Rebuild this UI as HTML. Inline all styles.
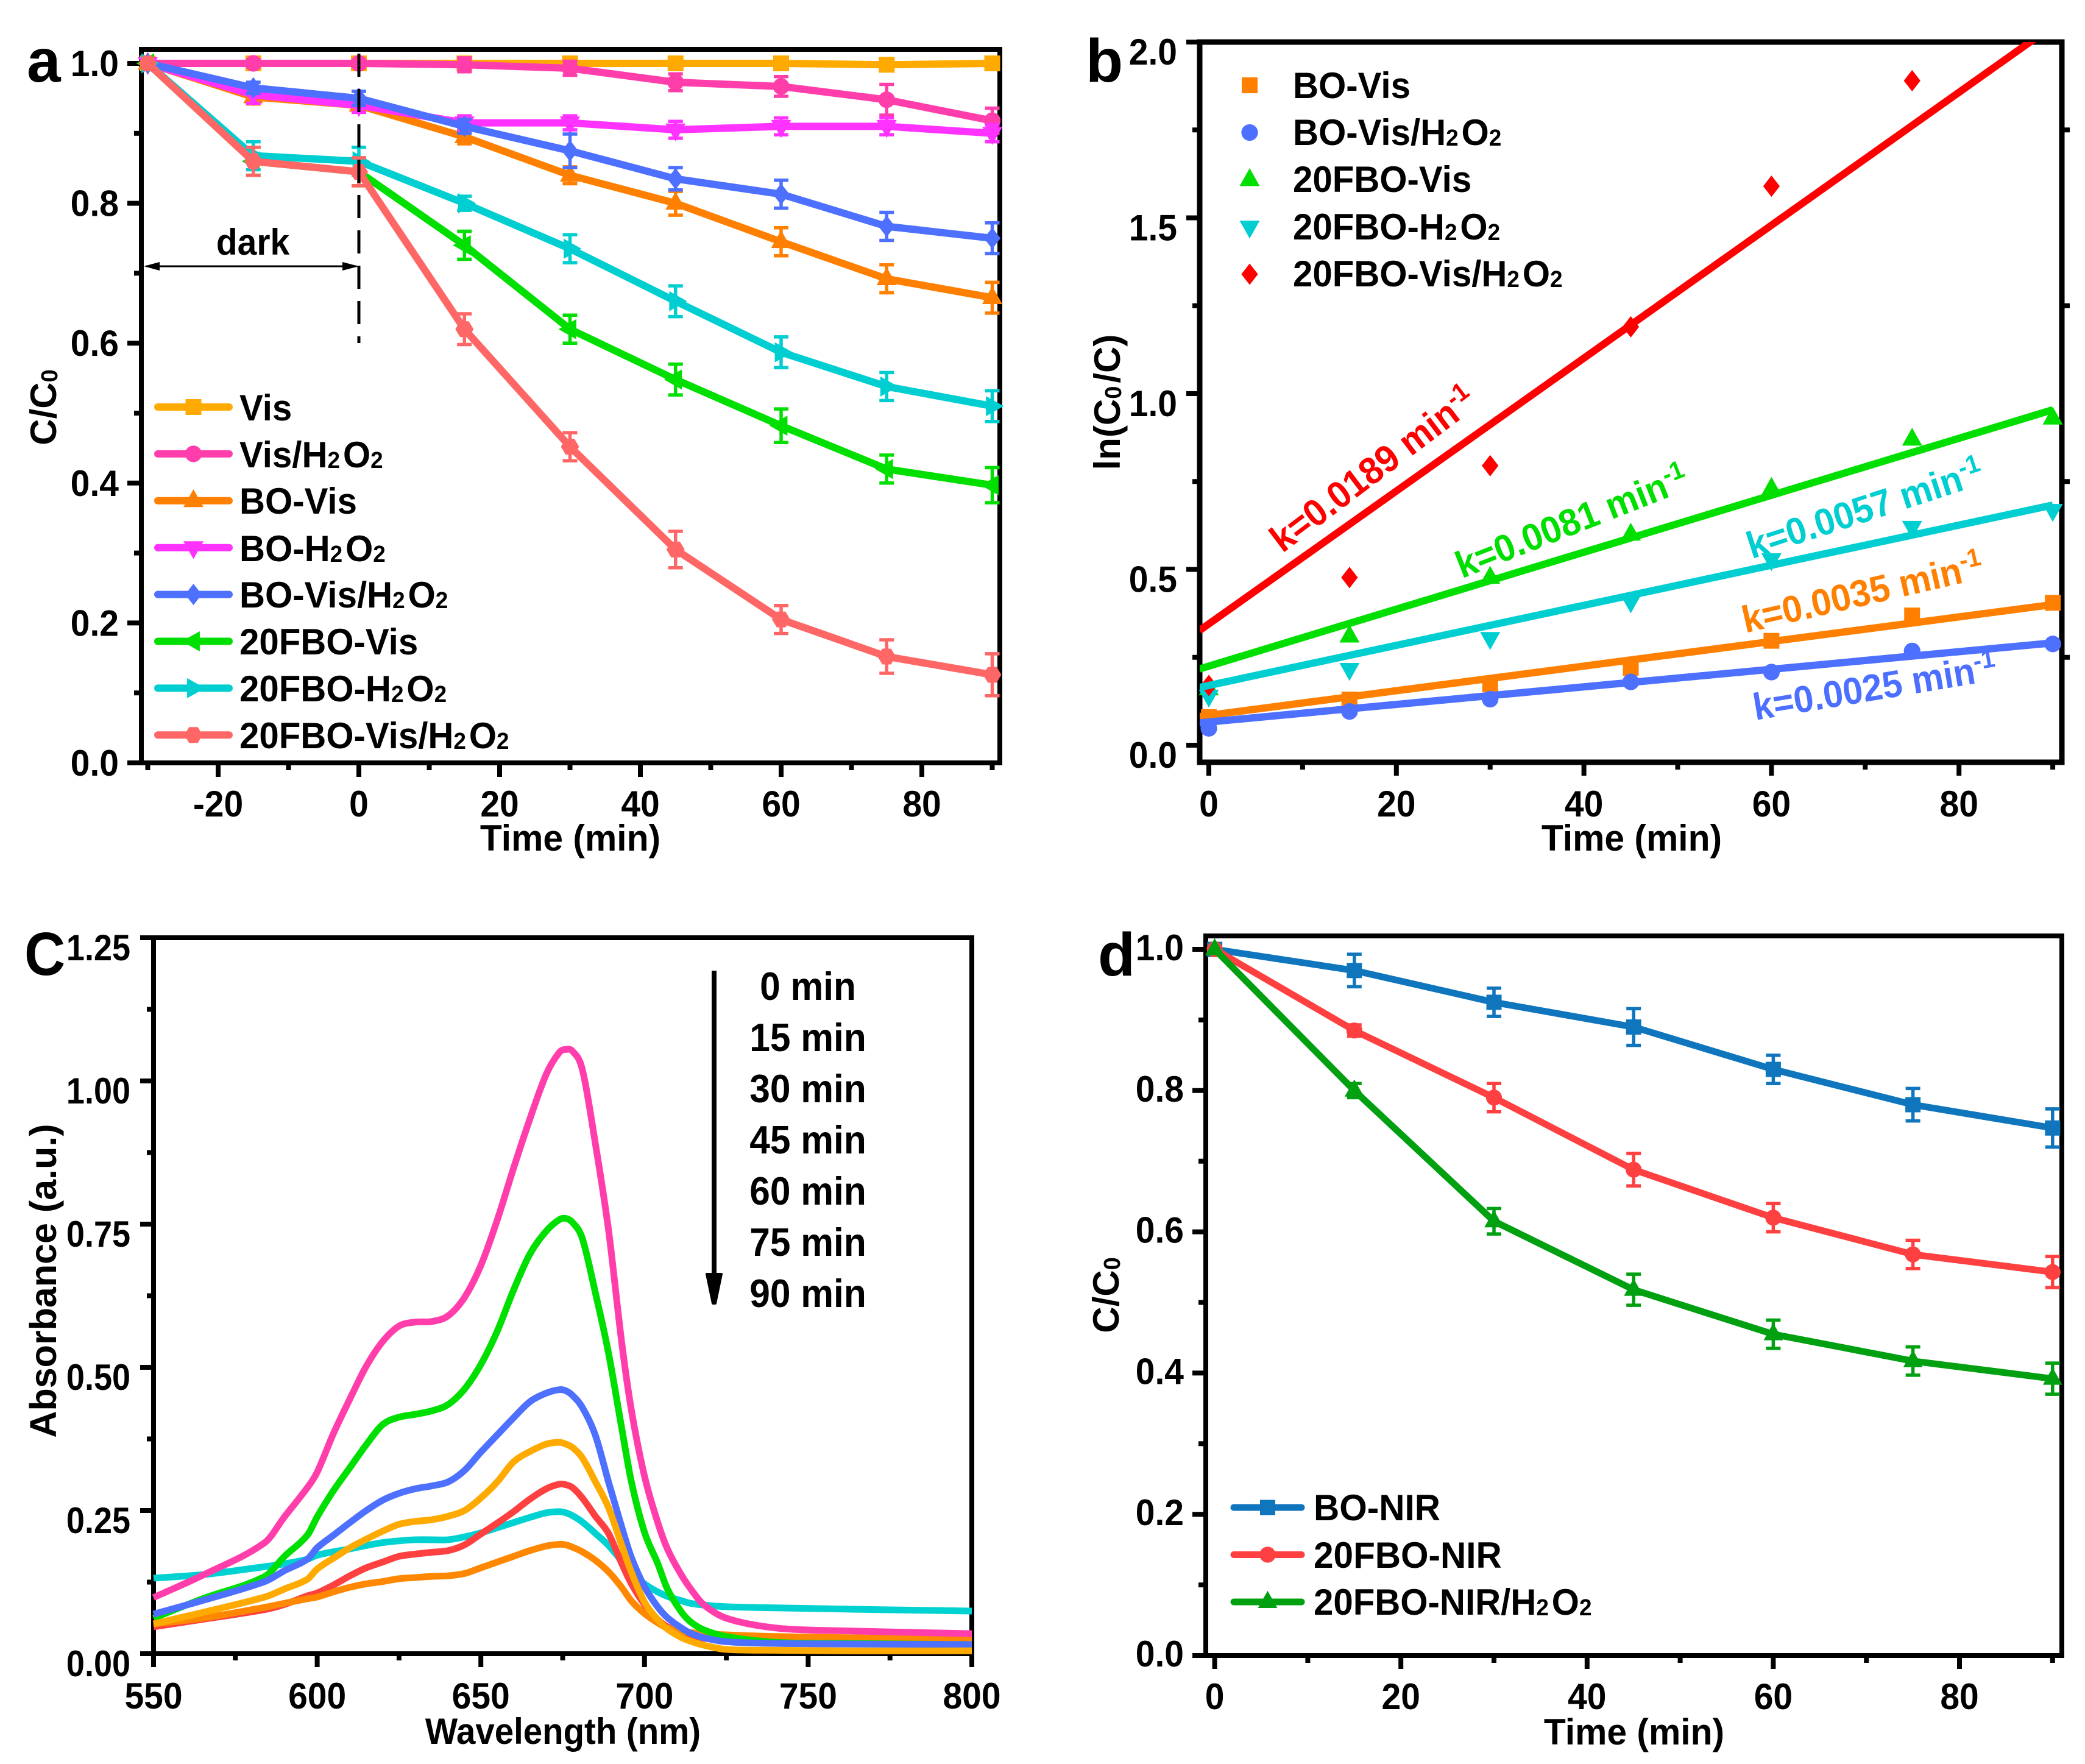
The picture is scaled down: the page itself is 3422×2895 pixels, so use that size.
<!DOCTYPE html>
<html lang="en">
<head>
<meta charset="utf-8">
<title>Photocatalytic degradation charts</title>
<style>
html,body{margin:0;padding:0;background:#fff;}
svg{display:block;}
text{font-family:"Liberation Sans",Arial,sans-serif;font-weight:700;fill:#000;}
.lg{font-size:60px;}
.sub{font-size:38px;letter-spacing:5px;}
.ax{font-size:60px;}
.rate{font-size:62px;}
.sup{font-size:42px;}
.tm{font-size:65px;}
.letter{font-size:100px;}
</style>
</head>
<body>
<svg id="chart" xmlns="http://www.w3.org/2000/svg" width="3422" height="2895" viewBox="0 0 3422 2895">
<rect width="3422" height="2895" fill="#fff"/>
<defs><clipPath id="clipB"><rect x="1969" y="69" width="1415" height="1182"/></clipPath></defs>

<g id="panelA"></g>
<g id="panelB"></g>
<g id="panelC"></g>
<g id="panelD"></g>

<!-- Panel letters -->
<text class="letter" x="44" y="134">a</text>
<text class="letter" x="1782" y="134">b</text>
<text class="letter" transform="translate(40 1600) scale(.93 1)">C</text>
<text class="letter" x="1802" y="1601">d</text>

<!-- Axis titles -->
<text class="ax" text-anchor="middle" transform="translate(936 1396) scale(.98 1)">Time (min)</text>
<text class="ax" text-anchor="middle" transform="translate(92 666) rotate(-90)">C/C<tspan class="sub" dy="2">0</tspan></text>
<text class="ax" text-anchor="middle" transform="translate(2678 1396) scale(.98 1)">Time (min)</text>
<text class="ax" text-anchor="middle" transform="translate(1838 660) rotate(-90)">ln(C<tspan class="sub" dy="2">0</tspan><tspan dy="-2">/C)</tspan></text>
<text class="ax" text-anchor="middle" transform="translate(924 2862) scale(.94 1)">Wavelength (nm)</text>
<text class="ax" text-anchor="middle" style="font-size:61px" transform="translate(92 2102) rotate(-90)">Absorbance (a.u.)</text>
<text class="ax" text-anchor="middle" transform="translate(2682 2863) scale(.98 1)">Time (min)</text>
<text class="ax" text-anchor="middle" transform="translate(1836 2123) rotate(-90)">C/C<tspan class="sub" dy="2">0</tspan></text>

<!-- Panel a annotation -->
<text class="ax" text-anchor="middle" transform="translate(415 418) scale(.95 1)">dark</text>
<line x1="240" y1="437" x2="585" y2="437" stroke="#000" stroke-width="3"/>
<polygon points="236,437 262,430 262,444" fill="#000"/>
<polygon points="589,437 562,430 562,444" fill="#000"/>
<line x1="589" y1="88" x2="589" y2="563" stroke="#000" stroke-width="5" stroke-dasharray="38 20"/>

<!-- Panel a legend text -->
<g>
<text class="lg" transform="translate(393 690) scale(.97 1)">Vis</text>
<text class="lg" transform="translate(393 767) scale(.97 1)">Vis/H<tspan class="sub" dy="1">2</tspan><tspan dy="-1">O</tspan><tspan class="sub" dy="1">2</tspan></text>
<text class="lg" transform="translate(393 843) scale(.97 1)">BO-Vis</text>
<text class="lg" transform="translate(393 921) scale(.97 1)">BO-H<tspan class="sub" dy="1">2</tspan><tspan dy="-1">O</tspan><tspan class="sub" dy="1">2</tspan></text>
<text class="lg" transform="translate(393 997) scale(.97 1)">BO-Vis/H<tspan class="sub" dy="1">2</tspan><tspan dy="-1">O</tspan><tspan class="sub" dy="1">2</tspan></text>
<text class="lg" transform="translate(393 1074) scale(.97 1)">20FBO-Vis</text>
<text class="lg" transform="translate(393 1151) scale(.97 1)">20FBO-H<tspan class="sub" dy="1">2</tspan><tspan dy="-1">O</tspan><tspan class="sub" dy="1">2</tspan></text>
<text class="lg" transform="translate(393 1228) scale(.97 1)">20FBO-Vis/H<tspan class="sub" dy="1">2</tspan><tspan dy="-1">O</tspan><tspan class="sub" dy="1">2</tspan></text>
</g>

<!-- Panel b legend text -->
<g>
<text class="lg" transform="translate(2122 161) scale(.97 1)">BO-Vis</text>
<text class="lg" transform="translate(2122 238) scale(.97 1)">BO-Vis/H<tspan class="sub" dy="1">2</tspan><tspan dy="-1">O</tspan><tspan class="sub" dy="1">2</tspan></text>
<text class="lg" transform="translate(2122 315) scale(.97 1)">20FBO-Vis</text>
<text class="lg" transform="translate(2122 393) scale(.97 1)">20FBO-H<tspan class="sub" dy="1">2</tspan><tspan dy="-1">O</tspan><tspan class="sub" dy="1">2</tspan></text>
<text class="lg" transform="translate(2122 470) scale(.97 1)">20FBO-Vis/H<tspan class="sub" dy="1">2</tspan><tspan dy="-1">O</tspan><tspan class="sub" dy="1">2</tspan></text>
</g>

<!-- Panel b rate constant labels -->
<text class="rate" style="fill:#FF0000" text-anchor="middle" transform="translate(2254 771) rotate(-37) scale(.95 1)"><tspan dy="20">k=0.0189 min</tspan><tspan class="sup" dy="-22">-1</tspan></text>
<text class="rate" style="fill:#00DF00" text-anchor="middle" transform="translate(2580 857) rotate(-21.5) scale(.95 1)"><tspan dy="20">k=0.0081 min</tspan><tspan class="sup" dy="-22">-1</tspan></text>
<text class="rate" style="fill:#00CED1" text-anchor="middle" transform="translate(3061 836) rotate(-18) scale(.95 1)"><tspan dy="20">k=0.0057 min</tspan><tspan class="sup" dy="-22">-1</tspan></text>
<text class="rate" style="fill:#FF8000" text-anchor="middle" transform="translate(3057 974) rotate(-13) scale(.95 1)"><tspan dy="20">k=0.0035 min</tspan><tspan class="sup" dy="-22">-1</tspan></text>
<text class="rate" style="fill:#4C6FFF" text-anchor="middle" transform="translate(3077 1129) rotate(-9.5) scale(.95 1)"><tspan dy="20">k=0.0025 min</tspan><tspan class="sup" dy="-22">-1</tspan></text>

<!-- Panel c time list and arrow -->
<line x1="1172" y1="1593" x2="1172" y2="2100" stroke="#000" stroke-width="8"/>
<polygon points="1160,2091 1184,2091 1174,2139 1170,2139" fill="#000" stroke="#000" stroke-width="4" stroke-linejoin="round"/>
<g>
<text class="tm" text-anchor="middle" transform="translate(1326 1641) scale(.93 1)">0 min</text>
<text class="tm" text-anchor="middle" transform="translate(1326 1725) scale(.93 1)">15 min</text>
<text class="tm" text-anchor="middle" transform="translate(1326 1809) scale(.93 1)">30 min</text>
<text class="tm" text-anchor="middle" transform="translate(1326 1893) scale(.93 1)">45 min</text>
<text class="tm" text-anchor="middle" transform="translate(1326 1977) scale(.93 1)">60 min</text>
<text class="tm" text-anchor="middle" transform="translate(1326 2061) scale(.93 1)">75 min</text>
<text class="tm" text-anchor="middle" transform="translate(1326 2145) scale(.93 1)">90 min</text>
</g>

<!-- Panel d legend text -->
<g>
<text class="lg" transform="translate(2156 2495) scale(.975 1)">BO-NIR</text>
<text class="lg" transform="translate(2156 2573) scale(.975 1)">20FBO-NIR</text>
<text class="lg" transform="translate(2156 2650) scale(.97 1)">20FBO-NIR/H<tspan class="sub" dy="1">2</tspan><tspan dy="-1">O</tspan><tspan class="sub" dy="1">2</tspan></text>
</g>
</svg>

<script>
/* ---------- Panel a data ---------- */
const timeA = [-30, -15, 0, 15, 30, 45, 60, 75, 90];
const visVals = [1, 1, 1, 1, 1, 1.0, 1.0, 0.998, 1.0];
const visErr = [0, 0.004, 0.004, 0.004, 0.004, 0.006, 0.006, 0.006, 0.006];
const visH2o2Vals = [1, 1, 1, 0.998, 0.993, 0.973, 0.967, 0.948, 0.918];
const visH2o2Err = [0, 0.005, 0.005, 0.01, 0.01, 0.012, 0.014, 0.022, 0.018];
const boVisVals = [1, 0.952, 0.94, 0.895, 0.84, 0.80, 0.745, 0.692, 0.665];
const boVisErr = [0, 0.01, 0.01, 0.01, 0.012, 0.017, 0.02, 0.02, 0.022];
const boH2o2Vals = [1, 0.955, 0.94, 0.915, 0.915, 0.905, 0.91, 0.91, 0.90];
const boH2o2Err = [0, 0.012, 0.01, 0.01, 0.01, 0.012, 0.012, 0.012, 0.012];
const boVisH2o2Vals = [1, 0.965, 0.95, 0.91, 0.875, 0.835, 0.813, 0.767, 0.75];
const boVisH2o2Err = [0, 0.008, 0.01, 0.01, 0.024, 0.016, 0.02, 0.02, 0.022];
const fboVisVals = [1, 0.86, 0.845, 0.74, 0.62, 0.548, 0.482, 0.42, 0.397];
const fboVisErr = [0, 0.02, 0.02, 0.02, 0.02, 0.022, 0.024, 0.02, 0.025];
const fboH2o2Vals = [1, 0.868, 0.86, 0.80, 0.735, 0.66, 0.587, 0.538, 0.51];
const fboH2o2Err = [0, 0.02, 0.02, 0.01, 0.02, 0.022, 0.022, 0.02, 0.022];
const fboVisH2o2Vals = [1, 0.86, 0.845, 0.62, 0.452, 0.305, 0.205, 0.152, 0.126];
const fboVisH2o2Err = [0, 0.02, 0.02, 0.022, 0.02, 0.026, 0.02, 0.024, 0.03];
const yTicksA = ["0.0", "0.2", "0.4", "0.6", "0.8", "1.0"];
const xTicksA = ["-20", "0", "20", "40", "60", "80"];

/* ---------- Panel b data ---------- */
const timeB = [0, 15, 30, 45, 60, 75, 90];
const bBoVis = [0.08, 0.13, 0.173, 0.22, 0.297, 0.369, 0.405];
const bBoVisH2o2 = [0.048, 0.096, 0.131, 0.18, 0.208, 0.268, 0.288];
const bFboVis = [0.16, 0.31, 0.477, 0.60, 0.73, 0.87, 0.93];
const bFboH2o2 = [0.14, 0.216, 0.304, 0.408, 0.528, 0.62, 0.668];
const bFboVisH2o2 = [0.17, 0.477, 0.795, 1.19, 1.59, 1.89];
const bSlopes = [0.0035, 0.0025, 0.0081, 0.0057, 0.0189];
const bIntercepts = [0.085, 0.066, 0.225, 0.17, 0.345];
const yTicksB = ["0.0", "0.5", "1.0", "1.5", "2.0"];
const xTicksB = ["0", "20", "40", "60", "80"];

/* ---------- Panel c data ---------- */
const wavelengths = [550,565,584,590,597,600,605,610,615,620,625,630,635,640,645,650,655,660,665,670,674,676,678,681,685,689,693,696,700,704,707,711,714,718,725,740,760,800];
const abs0 = [.098,.137,.194,.239,.29,.317,.385,.445,.502,.545,.572,.579,.58,.59,.622,.678,.757,.848,.934,1.012,1.05,1.055,1.052,1.02,.89,.74,.545,.425,.31,.23,.183,.14,.114,.086,.062,.045,.04,.035];
const abs15 = [.062,.096,.135,.17,.207,.239,.285,.325,.365,.40,.413,.418,.424,.435,.462,.505,.563,.635,.698,.738,.758,.76,.753,.725,.63,.525,.395,.30,.212,.158,.113,.075,.056,.042,.03,.02,.018,.016];
const abs30 = [.069,.093,.126,.145,.165,.185,.207,.229,.25,.268,.28,.288,.293,.30,.32,.352,.382,.412,.44,.455,.461,.459,.451,.43,.381,.30,.222,.168,.117,.082,.063,.046,.036,.028,.021,.018,.017,.016];
const abs45 = [.052,.072,.099,.113,.13,.148,.167,.185,.20,.214,.226,.231,.234,.24,.25,.272,.30,.335,.353,.366,.369,.366,.36,.342,.30,.255,.19,.142,.09,.06,.043,.029,.022,.015,.0075,.006,.005,.005];
const abs60 = [.047,.06,.077,.086,.101,.106,.12,.136,.15,.16,.17,.174,.177,.18,.19,.209,.228,.248,.27,.288,.296,.295,.29,.272,.24,.21,.158,.122,.086,.06,.047,.037,.03,.027,.024,.021,.02,.018];
const abs75 = [.132,.138,.152,.157,.165,.172,.178,.183,.189,.194,.197,.199,.199,.199,.204,.211,.22,.229,.238,.246,.248,.246,.241,.23,.21,.189,.162,.143,.122,.108,.10,.093,.088,.085,.082,.08,.078,.0745];
const abs90 = [.052,.062,.081,.088,.096,.099,.108,.116,.122,.126,.131,.133,.135,.136,.14,.15,.16,.17,.18,.188,.191,.19,.186,.178,.163,.143,.116,.092,.07,.054,.045,.04,.037,.035,.033,.03,.028,.0255];
const yTicksC = ["0.00", "0.25", "0.50", "0.75", "1.00", "1.25"];
const xTicksC = ["550", "600", "650", "700", "750", "800"];

/* ---------- Panel d data ---------- */
const timeD = [0, 15, 30, 45, 60, 75, 90];
const boNirVals = [1, 0.97, 0.925, 0.89, 0.83, 0.78, 0.747];
const boNirErr = [0, 0.023, 0.02, 0.026, 0.02, 0.023, 0.027];
const fboNirVals = [1, 0.885, 0.79, 0.688, 0.62, 0.568, 0.543];
const fboNirErr = [0, 0.008, 0.02, 0.023, 0.02, 0.02, 0.022];
const fboNirH2o2Vals = [1, 0.80, 0.615, 0.518, 0.455, 0.417, 0.392];
const fboNirH2o2Err = [0, 0.01, 0.018, 0.022, 0.02, 0.02, 0.022];
const yTicksD = ["0.0", "0.2", "0.4", "0.6", "0.8", "1.0"];
const xTicksD = ["0", "20", "40", "60", "80"];

/* ---------- Axis functions ---------- */
const xA = t => 589 + 11.55 * t;
const yA = v => 1252 - 1148 * v;
const xB = t => 1984 + 15.39 * t;
const yB = v => 1223 - 577 * v;
const xC = w => 252 + 5.372 * (w - 550);
const yC = v => 2714 - 940 * v;
const xD = t => 1993.6 + 15.28 * t;
const yD = v => 2717 - 1159 * v;

/* ---------- Drawing helpers ---------- */
const NS = "http://www.w3.org/2000/svg";
function mk(parent, tag, attrs, name) {
  const el = document.createElementNS(NS, tag);
  for (const k in attrs) el.setAttribute(k, attrs[k]);
  
  
  parent.appendChild(el);
  return el;
}
function seg(p, x1, y1, x2, y2, w, c, name) {
  return mk(p, "line", {x1, y1, x2, y2, stroke: c, "stroke-width": w}, name);
}
function marker(p, shape, cx, cy, s, c, name) {
  const r = s / 2;
  if (shape === "circle") return mk(p, "circle", {cx, cy, r: r * 1.05, fill: c}, name);
  if (shape === "square") return mk(p, "rect", {x: cx - r, y: cy - r, width: s, height: s, fill: c}, name);
  const shapes = {
    up: [[0,-1.46],[1.27,.8],[-1.27,.8]],
    down: [[0,1.46],[1.27,-.8],[-1.27,-.8]],
    left: [[-1.46,0],[.8,-1.27],[.8,1.27]],
    right: [[1.46,0],[-.8,-1.27],[-.8,1.27]],
    diamond: [[0,-1.35],[1.05,0],[0,1.35],[-1.05,0]],
    hex: [[-.55,-1],[.55,-1],[1.15,0],[.55,1],[-.55,1],[-1.15,0]]
  };
  const pts = shapes[shape].map(q => (cx + q[0] * r) + "," + (cy + q[1] * r)).join(" ");
  return mk(p, "polygon", {points: pts, fill: c}, name);
}
function label(p, x, y, str, anchor, name, sx) {
  const t = mk(p, "text", {"text-anchor": anchor, transform: "translate(" + x + " " + y + ") scale(" + sx + " 1)", "font-size": 60}, name);
  t.textContent = str;
  return t;
}
function axes(p, o) {
  /* frame */
  mk(p, "rect", {x: o.l, y: o.t, width: o.r - o.l, height: o.b - o.t, fill: "none", stroke: "#000", "stroke-width": o.w}, "plot-frame");
  /* y ticks */
  o.yMajor.forEach(v => seg(p, o.l - o.majLen, o.y(v), o.l, o.y(v), o.tw, "#000", "y-major-tick"));
  o.yMinor.forEach(v => seg(p, o.l - o.minLen, o.y(v), o.l, o.y(v), o.tw, "#000", "y-minor-tick"));
  /* x ticks */
  o.xMajor.forEach(v => seg(p, o.x(v), o.b, o.x(v), o.b + o.majLen, o.tw, "#000", "x-major-tick"));
  o.xMinor.forEach(v => seg(p, o.x(v), o.b, o.x(v), o.b + o.minLen, o.tw, "#000", "x-minor-tick"));
  /* tick labels */
  o.yLabels.forEach((s) => label(p, o.yLabelX, o.y(parseFloat(s)) + o.yLabelDy, s, "end", "y-tick-label", o.ySx || .95));
  o.xLabels.forEach((s) => label(p, o.x(parseFloat(s)), o.xLabelY, s, "middle", "x-tick-label", .95));
}
function lineSeries(p, xs, ys, errs, sx, sy, st, name, lw, ms, capW, eW) {
  const g = mk(p, "g", {}, "series-" + name);
  if (errs) {
    xs.forEach((t, i) => {
      if (!errs[i]) return;
      const x = sx(t), y1 = sy(ys[i] - errs[i]), y2 = sy(ys[i] + errs[i]);
      seg(g, x, y1, x, y2, eW, st.color, "error-bar-" + name);
      seg(g, x - capW / 2, y1, x + capW / 2, y1, eW, st.color, "error-cap-" + name);
      seg(g, x - capW / 2, y2, x + capW / 2, y2, eW, st.color, "error-cap-" + name);
    });
  }
  const pts = xs.map((t, i) => sx(t) + "," + sy(ys[i])).join(" ");
  mk(g, "polyline", {points: pts, fill: "none", stroke: st.color, "stroke-width": lw, "stroke-linejoin": "round"}, "line-" + name);
  xs.forEach((t, i) => marker(g, st.shape, sx(t), sy(ys[i]), ms, st.color, "point-" + name));
}
function legendRow(p, x1, x2, y, st, name, lw, ms) {
  mk(p, "line", {x1, y1: y, x2, y2: y, stroke: st.color, "stroke-width": lw, "stroke-linecap": "round"}, "legend-line-" + name);
  marker(p, st.shape, (x1 + x2) / 2, y, ms, st.color, "legend-marker-" + name);
}
function smoothPath(xs, ys, sx, sy) {
  const P = xs.map((w, i) => [sx(w), sy(ys[i])]);
  let d = "M" + P[0][0] + " " + P[0][1];
  for (let i = 0; i < P.length - 1; i++) {
    const a = P[Math.max(i - 1, 0)], b = P[i], c = P[i + 1], e = P[Math.min(i + 2, P.length - 1)];
    const h = (c[0] - b[0]);
    const sl = (q, r) => (r[1] - q[1]) / ((r[0] - q[0]) || 1);
    const m1 = sl(a, c), m2 = sl(b, e);
    d += " C" + (b[0] + h / 3) + " " + (b[1] + m1 * h / 3) + " " + (c[0] - h / 3) + " " + (c[1] - m2 * h / 3) + " " + c[0] + " " + c[1];
  }
  return d;
}

/* ---------- Panel a ---------- */
const panelA = document.getElementById("panelA");
axes(panelA, {
  l: 232, r: 1641, t: 81, b: 1252, w: 8, tw: 8, majLen: 23, minLen: 12, x: xA, y: yA,
  yMajor: [0, .2, .4, .6, .8, 1], yMinor: [.1, .3, .5, .7, .9],
  xMajor: [-20, 0, 20, 40, 60, 80], xMinor: [-30, -10, 10, 30, 50, 70, 90],
  yLabels: yTicksA, xLabels: xTicksA, yLabelX: 195, yLabelDy: 21, xLabelY: 1340
});
const stylesA = {
  vis: {color: "#FFAA00", shape: "square"},
  visH: {color: "#FF3EAC", shape: "circle"},
  boVis: {color: "#FF8000", shape: "up"},
  boH: {color: "#FF32FF", shape: "down"},
  boVisH: {color: "#4D70FF", shape: "diamond"},
  fVis: {color: "#00DF00", shape: "left"},
  fH: {color: "#00CED1", shape: "right"},
  fVisH: {color: "#FF6666", shape: "hex"}
};
lineSeries(panelA, timeA, visVals, visErr, xA, yA, stylesA.vis, "vis", 12, 26, 24, 5.5);
lineSeries(panelA, timeA, visH2o2Vals, visH2o2Err, xA, yA, stylesA.visH, "vis-h2o2", 12, 26, 24, 5.5);
lineSeries(panelA, timeA, boVisVals, boVisErr, xA, yA, stylesA.boVis, "bo-vis", 12, 26, 24, 5.5);
lineSeries(panelA, timeA, boH2o2Vals, boH2o2Err, xA, yA, stylesA.boH, "bo-h2o2", 12, 26, 24, 5.5);
lineSeries(panelA, timeA, boVisH2o2Vals, boVisH2o2Err, xA, yA, stylesA.boVisH, "bo-vis-h2o2", 12, 26, 24, 5.5);
lineSeries(panelA, timeA, fboVisVals, fboVisErr, xA, yA, stylesA.fVis, "20fbo-vis", 12, 26, 24, 5.5);
lineSeries(panelA, timeA, fboH2o2Vals, fboH2o2Err, xA, yA, stylesA.fH, "20fbo-h2o2", 12, 26, 24, 5.5);
lineSeries(panelA, timeA, fboVisH2o2Vals, fboVisH2o2Err, xA, yA, stylesA.fVisH, "20fbo-vis-h2o2", 12, 26, 24, 5.5);
const legendA = mk(panelA, "g", {}, "legend-a");
[["vis", "vis"], ["visH", "vis-h2o2"], ["boVis", "bo-vis"], ["boH", "bo-h2o2"], ["boVisH", "bo-vis-h2o2"], ["fVis", "20fbo-vis"], ["fH", "20fbo-h2o2"], ["fVisH", "20fbo-vis-h2o2"]]
  .forEach((e, i) => legendRow(legendA, 259, 376, 668 + 76.9 * i, stylesA[e[0]], e[1], 12, 26));

/* ---------- Panel b ---------- */
const panelB = document.getElementById("panelB");
axes(panelB, {
  l: 1969, r: 3384, t: 69, b: 1251, w: 9, tw: 8, majLen: 22, minLen: 12, x: xB, y: yB,
  yMajor: [0, .5, 1, 1.5, 2], yMinor: [.25, .75, 1.25, 1.75],
  xMajor: [0, 20, 40, 60, 80], xMinor: [10, 30, 50, 70, 90],
  yLabels: yTicksB, xLabels: xTicksB, yLabelX: 1932, yLabelDy: 37, xLabelY: 1340
});
[.25, .75, 1.25, 1.75].forEach(v => seg(panelB, 3384, yB(v), 3397, yB(v), 8, "#000", "right-minor-tick"));
const stylesB = [
  {color: "#FF8000", shape: "square", name: "bo-vis", vals: bBoVis},
  {color: "#4D70FF", shape: "circle", name: "bo-vis-h2o2", vals: bBoVisH2o2},
  {color: "#00DF00", shape: "up", name: "20fbo-vis", vals: bFboVis},
  {color: "#00CED1", shape: "down", name: "20fbo-h2o2", vals: bFboH2o2},
  {color: "#FF0000", shape: "diamond", name: "20fbo-vis-h2o2", vals: bFboVisH2o2}
];
const fitOrder = [4, 2, 3, 0, 1];
const pointsB = mk(panelB, "g", {}, "scatter-points-b");
stylesB.forEach(st => st.vals.forEach((v, i) => marker(pointsB, st.shape, xB(timeB[i]), yB(v), 26, st.color, "point-" + st.name)));
const fitsB = mk(panelB, "g", {"clip-path": "url(#clipB)"}, "fit-lines-b");
fitOrder.forEach(j => {
  const st = stylesB[j];
  seg(fitsB, xB(-1), yB(bIntercepts[j] - bSlopes[j]), xB(90), yB(bIntercepts[j] + bSlopes[j] * 90), 12, st.color, "fit-line-" + st.name);
});
stylesB.forEach((st, i) => marker(panelB, st.shape, 2051, 140 + 77.5 * i, 26, st.color, "legend-marker-" + st.name));

/* ---------- Panel c ---------- */
const panelC = document.getElementById("panelC");
axes(panelC, {
  l: 252, r: 1595, t: 1539, b: 2714, w: 8, tw: 8, majLen: 22, minLen: 11, x: xC, y: yC,
  yMajor: [0, .25, .5, .75, 1, 1.25], yMinor: [.125, .375, .625, .875, 1.125],
  xMajor: [550, 600, 650, 700, 750, 800], xMinor: [575, 625, 675, 725, 775],
  yLabels: yTicksC, xLabels: xTicksC, yLabelX: 214, yLabelDy: 37, xLabelY: 2804, ySx: .9
});
[
  [abs75, "#00D2D2", "75-min"],
  [abs60, "#FF4040", "60-min"],
  [abs90, "#FF8800", "90-min"],
  [abs15, "#00E000", "15-min"],
  [abs0, "#FF3EAC", "0-min"],
  [abs30, "#4D70FF", "30-min"],
  [abs45, "#FFAA00", "45-min"]
].forEach(s => {
  mk(panelC, "path", {d: smoothPath(wavelengths, s[0], xC, yC), fill: "none", stroke: s[1], "stroke-width": 11, "stroke-linejoin": "round"}, "spectrum-" + s[2]);
});

/* ---------- Panel d ---------- */
const panelD = document.getElementById("panelD");
axes(panelD, {
  l: 1979, r: 3384, t: 1536, b: 2717, w: 8, tw: 8, majLen: 22, minLen: 12, x: xD, y: yD,
  yMajor: [0, .2, .4, .6, .8, 1], yMinor: [.1, .3, .5, .7, .9],
  xMajor: [0, 20, 40, 60, 80], xMinor: [10, 30, 50, 70, 90],
  yLabels: yTicksD, xLabels: xTicksD, yLabelX: 1943, yLabelDy: 18, xLabelY: 2805
});
const stylesD = {
  bo: {color: "#0F75BC", shape: "square"},
  f: {color: "#FF4040", shape: "circle"},
  fh: {color: "#00A010", shape: "up"}
};
lineSeries(panelD, timeD, boNirVals, boNirErr, xD, yD, stylesD.bo, "bo-nir", 11, 25, 24, 5.5);
lineSeries(panelD, timeD, fboNirVals, fboNirErr, xD, yD, stylesD.f, "20fbo-nir", 11, 25, 24, 5.5);
lineSeries(panelD, timeD, fboNirH2o2Vals, fboNirH2o2Err, xD, yD, stylesD.fh, "20fbo-nir-h2o2", 11, 25, 24, 5.5);
const legendD = mk(panelD, "g", {}, "legend-d");
[["bo", "bo-nir"], ["f", "20fbo-nir"], ["fh", "20fbo-nir-h2o2"]]
  .forEach((e, i) => legendRow(legendD, 2025, 2136, 2474 + 77.5 * i, stylesD[e[0]], e[1], 11, 25));
</script>
</body>
</html>
